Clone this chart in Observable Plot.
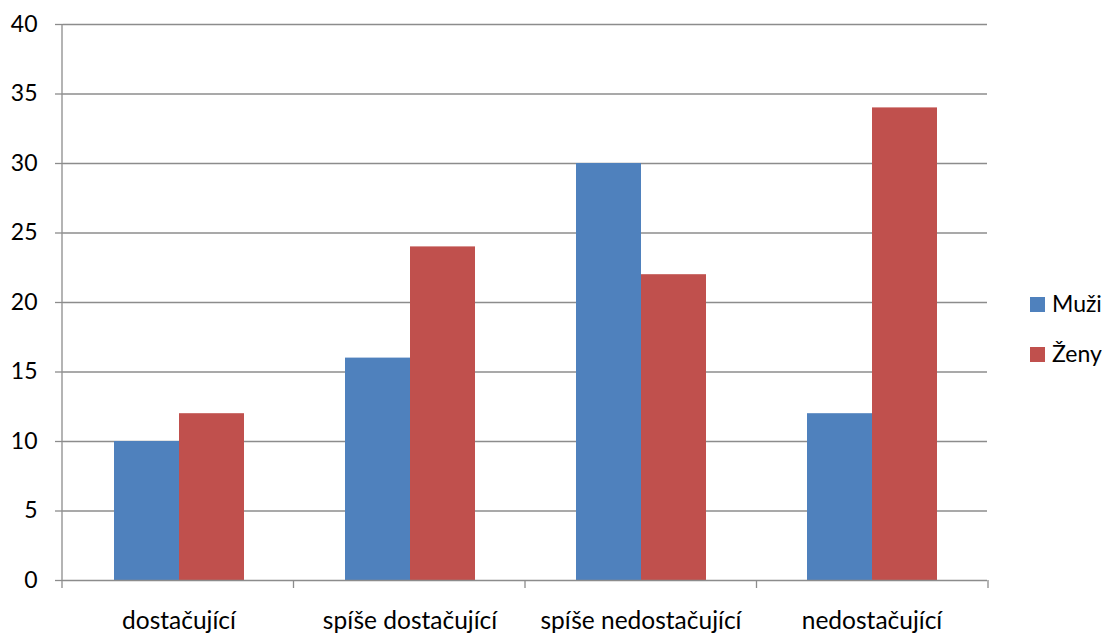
<!DOCTYPE html>
<html><head><meta charset="utf-8">
<script src="https://cdn.jsdelivr.net/npm/d3@7"></script>
<script src="https://cdn.jsdelivr.net/npm/@observablehq/plot@0.6"></script>
<style>
body{margin:0;background:#fff;}
#chart{position:relative;width:1106px;height:634px;font-family:Lato,sans-serif;}
.leg{position:absolute;left:1030px;font-size:23px;line-height:22px;color:#000;white-space:nowrap;}
.leg span{display:inline-block;width:15px;height:15px;vertical-align:0px;margin-right:7px;}
</style></head><body><div id="chart"></div>
<script>
const categories = ["dostačující","spíše dostačující","spíše nedostačující","nedostačující"];
const series = ["Muži","Ženy"];
const muzi = [10,16,30,12];
const zeny = [12,24,22,34];
const colors = ["#4f81bd","#c0504d"];
const yTicks = [0,5,10,15,20,25,30,35,40];
const gridColor = "#8c8c8c";

const data = categories.flatMap((c,i)=>[
  {category:c, series:series[0], value:muzi[i]},
  {category:c, series:series[1], value:zeny[i]}
]);

const plot = Plot.plot({
  width:1106, height:634, marginLeft:62, marginRight:118, marginTop:24, marginBottom:54,
  style:{fontFamily:"Lato, sans-serif", fontSize:"23px", color:"#000", background:"#fff"},
  fx:{domain:categories, padding:0, label:null, axis:"bottom", tickSize:0, tickPadding:31},
  x:{domain:series, paddingInner:0, paddingOuter:0.754, axis:null},
  y:{domain:[0,40], ticks:yTicks, label:null, tickSize:8, tickPadding:18},
  color:{domain:series, range:colors},
  marks:[
    Plot.ruleY(yTicks.slice(1), {stroke:gridColor, strokeWidth:1.3}),
    Plot.barY(data, {fx:"category", x:"series", y:"value", fill:"series"}),
    Plot.ruleY([0], {stroke:gridColor, strokeWidth:1.3})
  ]
});

const chart = document.getElementById("chart");
chart.appendChild(plot);

const svg = d3.select(plot);
svg.selectAll("text").style("font-size","23px");
svg.selectAll("[aria-label='fx-axis tick label'] text").style("font-size","24.5px");
svg.selectAll("[aria-label='y-axis tick'] path, [aria-label='y-axis tick'] line").attr("stroke", gridColor).attr("stroke-width",1.3);

const fxs = plot.scale("fx");
const ys = plot.scale("y");
const xb = d3.scaleBand().domain(fxs.domain).range(fxs.range)
  .paddingInner(fxs.paddingInner ?? 0).paddingOuter(fxs.paddingOuter ?? 0);
const yl = d3.scaleLinear().domain(ys.domain).range(ys.range);
const g = svg.append("g").attr("stroke", gridColor).attr("stroke-width",1.3);
const bounds = categories.map(c=>xb(c)).concat([xb.range()[1]]);
g.selectAll("line.b").data(bounds).join("line")
  .attr("x1",d=>d).attr("x2",d=>d).attr("y1",yl(0)).attr("y2",yl(0)+8);
g.append("line").attr("x1",xb.range()[0]).attr("x2",xb.range()[0])
  .attr("y1",yl(40)).attr("y2",yl(0));

const color = plot.scale("color");
series.forEach((s,i)=>{
  const d = document.createElement("div");
  d.className = "leg";
  d.style.top = (yl(20) - 10 + i*50) + "px";
  const sw = document.createElement("span");
  sw.style.background = color.range[i];
  d.appendChild(sw);
  d.appendChild(document.createTextNode(s));
  chart.appendChild(d);
});
</script></body></html>
